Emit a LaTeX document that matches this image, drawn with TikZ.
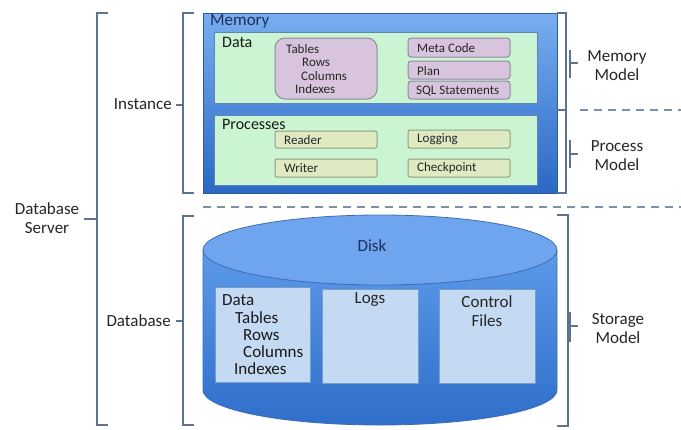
\documentclass[tikz,border=0pt]{standalone}
\usepackage{fontspec}
\setmainfont{Carlito}
\usetikzlibrary{positioning}
\definecolor{brkcol}{HTML}{5E7391}
\definecolor{memtop}{HTML}{78AEF0}
\definecolor{membot}{HTML}{2A68C4}
\definecolor{memline}{HTML}{2E5A9E}
\definecolor{greenfill}{HTML}{CBF5D2}
\definecolor{greenline}{HTML}{5B86B8}
\definecolor{purplefill}{HTML}{D8C4DC}
\definecolor{purpleline}{HTML}{8E8A9E}
\definecolor{procfill}{HTML}{E0EAC2}
\definecolor{procline}{HTML}{8F9C80}
\definecolor{disktop}{HTML}{6FA5EE}
\definecolor{diskside}{HTML}{5C9AEA}
\definecolor{diskbot}{HTML}{2F6ECA}
\definecolor{diskline}{HTML}{3D6DB0}
\definecolor{diskfill}{HTML}{C4D9F2}
\definecolor{diskboxline}{HTML}{7A9CC8}
\definecolor{navy}{HTML}{1F2F5C}

\begin{document}
\begin{tikzpicture}[x=1pt, y=-1pt,
  lbl/.style={inner sep=0pt, font=\fontsize{17}{19}\selectfont, text=black!85},
  head/.style={inner sep=0pt, anchor=west, font=\fontsize{16}{18}\selectfont, text=black!90},
  small/.style={inner sep=0pt, anchor=west, font=\fontsize{13}{15}\selectfont, text=black!85},
  big/.style={inner sep=0pt, anchor=west, font=\fontsize{17}{19}\selectfont, text=black!90},
  brk/.style={draw=brkcol, line width=1.6pt},
  dashline/.style={draw=brkcol!80, line width=1.4pt, dash pattern=on 8pt off 6pt},
  box/.style={inner sep=0pt, outer sep=0pt},
  membox/.style={box, draw=memline, line width=1pt, top color=memtop, bottom color=membot},
  greenbox/.style={box, draw=greenline, line width=1pt, fill=greenfill},
  purplebox/.style={box, draw=purpleline, line width=1pt, fill=purplefill, rounded corners=3pt},
  procbox/.style={box, draw=procline, line width=1pt, fill=procfill, rounded corners=2pt},
  diskbox/.style={box, draw=diskboxline, line width=0.8pt, fill=diskfill}]
\useasboundingbox[fill=white] (0,0) rectangle (681,429);

% brackets on the left
\draw[brk] (108,13) -- (97,13) -- (97,425) -- (108,425);
\draw[brk] (97,219) -- (84,219);
\draw[brk] (194,13) -- (183,13) -- (183,193) -- (194,193);
\draw[brk] (183,105) -- (176,105);
\draw[brk] (194,216) -- (183,216) -- (183,425) -- (194,425);
\draw[brk] (183,321) -- (176,321);
\node[lbl, align=center] (dbserver) at (47,218) {Database\\Server};
\node[lbl, anchor=east] (instance) at (172,104) {Instance};
\node[lbl, anchor=east] (database) at (171,321) {Database};

% memory
\node[membox, minimum width=354, minimum height=180] (memory) at (380,103) {};
\node[big, text=navy] (memlbl) at (210,21) {Memory};
\node[greenbox, minimum width=323, minimum height=71] (datamem) at (375.5,67.5) {};
\node[head] (datalbl) at (222,42) {Data};
\node[purplebox, rounded corners=10pt, minimum width=102, minimum height=61] (tables) at (326,68.5) {};
\node[small] (tab) at (286,49) {Tables};
\node[small] (rows) at (302,62) {Rows};
\node[small] (cols) at (301,76) {Columns};
\node[small] (idx) at (295,89) {Indexes};
\node[purplebox, minimum width=102, minimum height=19] (meta) at (459,47.5) {};
\node[purplebox, minimum width=102, minimum height=18] (plan) at (459,70) {};
\node[purplebox, minimum width=102, minimum height=18] (sql) at (459,90) {};
\node[small] at (417,48) {Meta Code};
\node[small] at (417,71) {Plan};
\node[small] at (416,91) {SQL Statements};

\node[greenbox, minimum width=323, minimum height=70] (procs) at (375.5,150) {};
\node[head] (proclbl) at (222,124) {Processes};
\node[procbox, minimum width=102, minimum height=17] (reader) at (326,139.5) {};
\node[procbox, minimum width=102, minimum height=18] (writer) at (326,168) {};
\node[procbox, minimum width=102, minimum height=18] (logging) at (459,139) {};
\node[procbox, minimum width=102, minimum height=18] (checkpt) at (459,168) {};
\node[small] at (284,140) {Reader};
\node[small] at (284,168) {Writer};
\node[small] at (417,139) {Logging};
\node[small] at (417,168) {Checkpoint};

% dashed separators
\draw[dashline] (580,110) -- (681,110);
\draw[dashline] (203,207) -- (681,207);

% disk
\path[draw=diskline, line width=0.8pt, top color=diskside, bottom color=diskbot]
  (203,250) -- (203,390) arc[start angle=180, end angle=360, x radius=177pt, y radius=35pt] -- (557,250);
\draw[draw=diskline, line width=0.8pt, fill=disktop] (380,250) ellipse [x radius=177pt, y radius=35pt];
\node[lbl, text=navy] (disk) at (372,246) {Disk};

\node[diskbox, minimum width=95, minimum height=95] (ddata) at (262.5,334.5) {};
\node[diskbox, minimum width=96, minimum height=94] (logs) at (370,336) {};
\node[diskbox, minimum width=96, minimum height=94] (ctrl) at (487,336) {};
\node[big] at (222,300) {Data};
\node[big] at (235,318) {Tables};
\node[big] at (243,335) {Rows};
\node[big] at (243,352) {Columns};
\node[big] at (234,369) {Indexes};
\node[lbl] (logslbl) at (370,300) {Logs};
\node[lbl, align=center] (ctrllbl) at (487,311) {Control\\Files};

% brackets on the right
\draw[brk] (557,13) -- (566,13) -- (566,193) -- (557,193);
\draw[brk] (566,110) -- (557,110);
\draw[brk] (570,50) -- (570,78);
\draw[brk] (570,63) -- (578,63);
\draw[brk] (570,140) -- (570,168);
\draw[brk] (570,154) -- (578,154);
\draw[brk] (557,215) -- (568,215) -- (568,426) -- (557,426);
\draw[brk] (570,312) -- (570,342);
\draw[brk] (570,326) -- (578,326);
\node[lbl, align=center] (memmodel) at (617,66) {Memory\\Model};
\node[lbl, align=center] (procmodel) at (617,156) {Process\\Model};
\node[lbl, align=center] (stormodel) at (618,329) {Storage\\Model};
\end{tikzpicture}
\end{document}
